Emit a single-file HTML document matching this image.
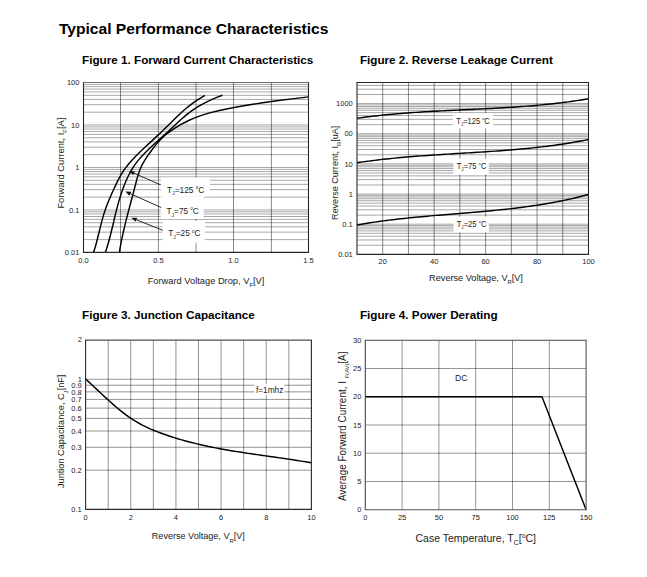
<!DOCTYPE html>
<html><head><meta charset="utf-8"><style>
html,body{margin:0;padding:0;background:#fff;}
body{width:647px;height:577px;overflow:hidden;}
svg{display:block;font-family:"Liberation Sans",sans-serif;}
</style></head><body>
<svg width="647" height="577" viewBox="0 0 647 577">
<rect width="647" height="577" fill="#fff"/>
<text x="58.9" y="34" font-size="15" font-weight="bold" fill="#000" textLength="269.6" lengthAdjust="spacingAndGlyphs">Typical Performance Characteristics</text>
<text x="82.1" y="63.9" font-size="11.7" text-anchor="start" font-weight="bold" fill="#000" >Figure 1. Forward Current Characteristics</text>
<text x="359.9" y="63.9" font-size="11.7" text-anchor="start" font-weight="bold" fill="#000" >Figure 2. Reverse Leakage Current</text>
<text x="82.1" y="318.9" font-size="11.7" text-anchor="start" font-weight="bold" fill="#000" >Figure 3. Junction Capacitance</text>
<text x="359.9" y="318.9" font-size="11.7" text-anchor="start" font-weight="bold" fill="#000" >Figure 4. Power Derating</text>
<line x1="83.5" y1="239.61" x2="308.5" y2="239.61" stroke="#000" stroke-opacity="0.35" stroke-width="1"/>
<line x1="83.5" y1="232.13" x2="308.5" y2="232.13" stroke="#000" stroke-opacity="0.35" stroke-width="1"/>
<line x1="83.5" y1="226.83" x2="308.5" y2="226.83" stroke="#000" stroke-opacity="0.35" stroke-width="1"/>
<line x1="83.5" y1="222.71" x2="308.5" y2="222.71" stroke="#000" stroke-opacity="0.35" stroke-width="1"/>
<line x1="83.5" y1="219.35" x2="308.5" y2="219.35" stroke="#000" stroke-opacity="0.35" stroke-width="1"/>
<line x1="83.5" y1="216.5" x2="308.5" y2="216.5" stroke="#000" stroke-opacity="0.35" stroke-width="1"/>
<line x1="83.5" y1="214.04" x2="308.5" y2="214.04" stroke="#000" stroke-opacity="0.35" stroke-width="1"/>
<line x1="83.5" y1="211.87" x2="308.5" y2="211.87" stroke="#000" stroke-opacity="0.35" stroke-width="1"/>
<line x1="83.5" y1="209.93" x2="308.5" y2="209.93" stroke="#000" stroke-opacity="0.35" stroke-width="1"/>
<line x1="83.5" y1="197.14" x2="308.5" y2="197.14" stroke="#000" stroke-opacity="0.35" stroke-width="1"/>
<line x1="83.5" y1="189.66" x2="308.5" y2="189.66" stroke="#000" stroke-opacity="0.35" stroke-width="1"/>
<line x1="83.5" y1="184.35" x2="308.5" y2="184.35" stroke="#000" stroke-opacity="0.35" stroke-width="1"/>
<line x1="83.5" y1="180.24" x2="308.5" y2="180.24" stroke="#000" stroke-opacity="0.35" stroke-width="1"/>
<line x1="83.5" y1="176.87" x2="308.5" y2="176.87" stroke="#000" stroke-opacity="0.35" stroke-width="1"/>
<line x1="83.5" y1="174.03" x2="308.5" y2="174.03" stroke="#000" stroke-opacity="0.35" stroke-width="1"/>
<line x1="83.5" y1="171.57" x2="308.5" y2="171.57" stroke="#000" stroke-opacity="0.35" stroke-width="1"/>
<line x1="83.5" y1="169.39" x2="308.5" y2="169.39" stroke="#000" stroke-opacity="0.35" stroke-width="1"/>
<line x1="83.5" y1="167.45" x2="308.5" y2="167.45" stroke="#000" stroke-opacity="0.35" stroke-width="1"/>
<line x1="83.5" y1="154.66" x2="308.5" y2="154.66" stroke="#000" stroke-opacity="0.35" stroke-width="1"/>
<line x1="83.5" y1="147.18" x2="308.5" y2="147.18" stroke="#000" stroke-opacity="0.35" stroke-width="1"/>
<line x1="83.5" y1="141.88" x2="308.5" y2="141.88" stroke="#000" stroke-opacity="0.35" stroke-width="1"/>
<line x1="83.5" y1="137.76" x2="308.5" y2="137.76" stroke="#000" stroke-opacity="0.35" stroke-width="1"/>
<line x1="83.5" y1="134.4" x2="308.5" y2="134.4" stroke="#000" stroke-opacity="0.35" stroke-width="1"/>
<line x1="83.5" y1="131.55" x2="308.5" y2="131.55" stroke="#000" stroke-opacity="0.35" stroke-width="1"/>
<line x1="83.5" y1="129.09" x2="308.5" y2="129.09" stroke="#000" stroke-opacity="0.35" stroke-width="1"/>
<line x1="83.5" y1="126.92" x2="308.5" y2="126.92" stroke="#000" stroke-opacity="0.35" stroke-width="1"/>
<line x1="83.5" y1="124.97" x2="308.5" y2="124.97" stroke="#000" stroke-opacity="0.35" stroke-width="1"/>
<line x1="83.5" y1="112.19" x2="308.5" y2="112.19" stroke="#000" stroke-opacity="0.35" stroke-width="1"/>
<line x1="83.5" y1="104.71" x2="308.5" y2="104.71" stroke="#000" stroke-opacity="0.35" stroke-width="1"/>
<line x1="83.5" y1="99.4" x2="308.5" y2="99.4" stroke="#000" stroke-opacity="0.35" stroke-width="1"/>
<line x1="83.5" y1="95.29" x2="308.5" y2="95.29" stroke="#000" stroke-opacity="0.35" stroke-width="1"/>
<line x1="83.5" y1="91.92" x2="308.5" y2="91.92" stroke="#000" stroke-opacity="0.35" stroke-width="1"/>
<line x1="83.5" y1="89.08" x2="308.5" y2="89.08" stroke="#000" stroke-opacity="0.35" stroke-width="1"/>
<line x1="83.5" y1="86.62" x2="308.5" y2="86.62" stroke="#000" stroke-opacity="0.35" stroke-width="1"/>
<line x1="83.5" y1="84.44" x2="308.5" y2="84.44" stroke="#000" stroke-opacity="0.35" stroke-width="1"/>
<line x1="120.5" y1="82.5" x2="120.5" y2="252.4" stroke="#000" stroke-opacity="0.46" stroke-width="1"/>
<line x1="158.4" y1="82.5" x2="158.4" y2="252.4" stroke="#000" stroke-opacity="0.46" stroke-width="1"/>
<line x1="196.1" y1="82.5" x2="196.1" y2="252.4" stroke="#000" stroke-opacity="0.46" stroke-width="1"/>
<line x1="233.5" y1="82.5" x2="233.5" y2="252.4" stroke="#000" stroke-opacity="0.46" stroke-width="1"/>
<line x1="271.4" y1="82.5" x2="271.4" y2="252.4" stroke="#000" stroke-opacity="0.46" stroke-width="1"/>
<rect x="161" y="177.5" width="49" height="19" fill="#fff"/>
<rect x="160.7" y="196.5" width="43" height="22.5" fill="#fff"/>
<rect x="162.6" y="221.2" width="42.5" height="21.5" fill="#fff"/>
<path d="M205.02,95.40 L201.55,97.39 L198.33,99.37 L195.33,101.36 L192.53,103.35 L189.91,105.34 L187.43,107.32 L185.07,109.31 L182.82,111.30 L180.64,113.29 L178.51,115.27 L176.43,117.26 L174.37,119.25 L172.33,121.24 L170.30,123.22 L168.28,125.21 L166.26,127.20 L164.24,129.18 L162.19,131.17 L160.13,133.16 L158.04,135.15 L155.91,137.13 L153.77,139.12 L151.62,141.11 L149.47,143.10 L147.32,145.08 L145.18,147.07 L143.07,149.06 L140.98,151.05 L138.93,153.03 L136.93,155.02 L134.97,157.01 L133.08,158.99 L131.26,160.98 L129.51,162.97 L127.85,164.96 L126.29,166.94 L124.82,168.93 L123.45,170.92 L122.16,172.91 L120.96,174.89 L119.82,176.88 L118.75,178.87 L117.72,180.86 L116.74,182.84 L115.79,184.83 L114.86,186.82 L113.95,188.81 L113.05,190.79 L112.15,192.78 L111.27,194.77 L110.40,196.75 L109.54,198.74 L108.71,200.73 L107.89,202.72 L107.11,204.70 L106.35,206.69 L105.63,208.68 L104.94,210.67 L104.29,212.65 L103.67,214.64 L103.08,216.63 L102.52,218.62 L101.97,220.60 L101.45,222.59 L100.94,224.58 L100.45,226.56 L99.96,228.55 L99.48,230.54 L99.00,232.53 L98.52,234.51 L98.03,236.50 L97.53,238.49 L97.02,240.48 L96.50,242.46 L95.96,244.45 L95.39,246.44 L94.80,248.43 L94.18,250.41 L93.53,252.40" stroke="#000" stroke-width="1.45" fill="none" stroke-linejoin="round"/>
<path d="M222.47,95.20 L217.38,97.19 L212.68,99.18 L208.35,101.17 L204.36,103.16 L200.69,105.15 L197.30,107.14 L194.18,109.13 L191.29,111.12 L188.61,113.11 L186.11,115.10 L183.75,117.09 L181.50,119.08 L179.33,121.07 L177.21,123.06 L175.11,125.05 L173.00,127.04 L170.84,129.03 L168.66,131.02 L166.45,133.01 L164.23,135.00 L162.00,136.99 L159.77,138.98 L157.55,140.97 L155.35,142.96 L153.18,144.95 L151.04,146.94 L148.95,148.93 L146.91,150.92 L144.93,152.91 L143.02,154.90 L141.18,156.89 L139.43,158.88 L137.78,160.87 L136.23,162.86 L134.79,164.85 L133.45,166.84 L132.20,168.83 L131.03,170.82 L129.94,172.81 L128.91,174.79 L127.94,176.78 L127.02,178.77 L126.14,180.76 L125.29,182.75 L124.48,184.74 L123.70,186.73 L122.95,188.72 L122.24,190.71 L121.55,192.70 L120.89,194.69 L120.25,196.68 L119.64,198.67 L119.04,200.66 L118.47,202.65 L117.92,204.64 L117.39,206.63 L116.87,208.62 L116.36,210.61 L115.86,212.60 L115.38,214.59 L114.90,216.58 L114.42,218.57 L113.95,220.56 L113.48,222.55 L113.02,224.54 L112.54,226.53 L112.07,228.52 L111.58,230.51 L111.09,232.50 L110.59,234.49 L110.08,236.48 L109.55,238.47 L109.01,240.46 L108.45,242.45 L107.87,244.44 L107.26,246.43 L106.64,248.42 L105.98,250.41 L105.30,252.40" stroke="#000" stroke-width="1.45" fill="none" stroke-linejoin="round"/>
<path d="M308.44,96.90 L291.94,98.87 L276.66,100.84 L262.59,102.81 L249.73,104.77 L238.09,106.74 L227.66,108.71 L218.46,110.68 L210.51,112.65 L203.74,114.62 L197.96,116.58 L192.99,118.55 L188.65,120.52 L184.75,122.49 L181.13,124.46 L177.73,126.43 L174.54,128.39 L171.57,130.36 L168.81,132.33 L166.27,134.30 L163.95,136.27 L161.83,138.24 L159.89,140.20 L158.10,142.17 L156.42,144.14 L154.85,146.11 L153.34,148.08 L151.87,150.05 L150.42,152.01 L149.00,153.98 L147.61,155.95 L146.27,157.92 L145.00,159.89 L143.80,161.86 L142.69,163.82 L141.67,165.79 L140.76,167.76 L139.94,169.73 L139.20,171.70 L138.53,173.67 L137.91,175.63 L137.34,177.60 L136.80,179.57 L136.29,181.54 L135.79,183.51 L135.28,185.48 L134.77,187.44 L134.26,189.41 L133.74,191.38 L133.22,193.35 L132.69,195.32 L132.17,197.29 L131.64,199.25 L131.12,201.22 L130.59,203.19 L130.07,205.16 L129.55,207.13 L129.02,209.10 L128.51,211.06 L127.99,213.03 L127.48,215.00 L126.97,216.97 L126.47,218.94 L125.98,220.91 L125.49,222.87 L125.01,224.84 L124.53,226.81 L124.07,228.78 L123.61,230.75 L123.17,232.72 L122.73,234.68 L122.30,236.65 L121.89,238.62 L121.49,240.59 L121.10,242.56 L120.73,244.53 L120.36,246.49 L120.02,248.46 L119.69,250.43 L119.37,252.40" stroke="#000" stroke-width="1.45" fill="none" stroke-linejoin="round"/>
<line x1="160.5" y1="184.8" x2="134.04" y2="173.21" stroke="#111" stroke-width="0.9"/>
<path d="M129,171 L134.92,171.19 L133.15,175.22 Z" fill="#111"/>
<line x1="161.2" y1="207.5" x2="130.32" y2="193.74" stroke="#111" stroke-width="0.9"/>
<path d="M125.3,191.5 L131.22,191.73 L129.43,195.75 Z" fill="#111"/>
<line x1="162.8" y1="230.3" x2="136.41" y2="219.83" stroke="#111" stroke-width="0.9"/>
<path d="M131.3,217.8 L137.22,217.78 L135.6,221.87 Z" fill="#111"/>
<text x="167" y="192.6" font-size="9.2" fill="#222" textLength="37.2" lengthAdjust="spacingAndGlyphs">T<tspan font-size="5.5" dy="2.6">J</tspan><tspan dy="-2.6">=125 </tspan><tspan font-size="4.6" dy="-3.6">o</tspan><tspan dy="3.6">C</tspan></text>
<text x="166.5" y="213.9" font-size="9.2" fill="#222" textLength="32.2" lengthAdjust="spacingAndGlyphs">T<tspan font-size="5.5" dy="2.6">J</tspan><tspan dy="-2.6">=75 </tspan><tspan font-size="4.6" dy="-3.6">o</tspan><tspan dy="3.6">C</tspan></text>
<text x="168.2" y="236.4" font-size="9.2" fill="#222" textLength="32.2" lengthAdjust="spacingAndGlyphs">T<tspan font-size="5.5" dy="2.6">J</tspan><tspan dy="-2.6">=25 </tspan><tspan font-size="4.6" dy="-3.6">o</tspan><tspan dy="3.6">C</tspan></text>
<line x1="82.95" y1="82.5" x2="309.05" y2="82.5" stroke="#707070" stroke-width="1.1"/>
<line x1="82.95" y1="252.4" x2="309.05" y2="252.4" stroke="#2a2a2a" stroke-width="1.1"/>
<line x1="83.5" y1="82.5" x2="83.5" y2="252.4" stroke="#2a2a2a" stroke-width="1.1"/>
<line x1="308.5" y1="82.5" x2="308.5" y2="252.4" stroke="#2a2a2a" stroke-width="1.1"/>
<text x="79.4" y="85.2" font-size="7.5" text-anchor="end" font-weight="normal" fill="#222" >100</text>
<text x="79.4" y="127.67" font-size="7.5" text-anchor="end" font-weight="normal" fill="#222" >10</text>
<text x="79.4" y="170.15" font-size="7.5" text-anchor="end" font-weight="normal" fill="#222" >1</text>
<text x="79.4" y="212.62" font-size="7.5" text-anchor="end" font-weight="normal" fill="#222" >0.1</text>
<text x="79.4" y="255.1" font-size="7.5" text-anchor="end" font-weight="normal" fill="#222" >0.01</text>
<text x="83.5" y="262.8" font-size="7.5" text-anchor="middle" font-weight="normal" fill="#222" >0.0</text>
<text x="158.5" y="262.8" font-size="7.5" text-anchor="middle" font-weight="normal" fill="#222" >0.5</text>
<text x="233.5" y="262.8" font-size="7.5" text-anchor="middle" font-weight="normal" fill="#222" >1.0</text>
<text x="308.5" y="262.8" font-size="7.5" text-anchor="middle" font-weight="normal" fill="#222" >1.5</text>
<text x="147.7" y="283.7" font-size="9.9" fill="#222" textLength="116.6" lengthAdjust="spacingAndGlyphs">Forward Voltage Drop, V<tspan font-size="6.2" dy="3.4">F</tspan><tspan dy="-3.4">[V]</tspan></text>
<text transform="translate(64 208.6) rotate(-90)" x="0" y="0" font-size="9.5" fill="#222" textLength="91" lengthAdjust="spacingAndGlyphs">Forward Current, I<tspan font-size="6.2" dy="3.4">F</tspan><tspan dy="-3.4">[A]</tspan></text>
<line x1="357" y1="245.27" x2="588.5" y2="245.27" stroke="#000" stroke-opacity="0.35" stroke-width="1"/>
<line x1="357" y1="239.96" x2="588.5" y2="239.96" stroke="#000" stroke-opacity="0.35" stroke-width="1"/>
<line x1="357" y1="236.2" x2="588.5" y2="236.2" stroke="#000" stroke-opacity="0.35" stroke-width="1"/>
<line x1="357" y1="233.27" x2="588.5" y2="233.27" stroke="#000" stroke-opacity="0.35" stroke-width="1"/>
<line x1="357" y1="230.89" x2="588.5" y2="230.89" stroke="#000" stroke-opacity="0.35" stroke-width="1"/>
<line x1="357" y1="228.87" x2="588.5" y2="228.87" stroke="#000" stroke-opacity="0.35" stroke-width="1"/>
<line x1="357" y1="227.12" x2="588.5" y2="227.12" stroke="#000" stroke-opacity="0.35" stroke-width="1"/>
<line x1="357" y1="225.58" x2="588.5" y2="225.58" stroke="#000" stroke-opacity="0.35" stroke-width="1"/>
<line x1="357" y1="224.2" x2="588.5" y2="224.2" stroke="#000" stroke-opacity="0.35" stroke-width="1"/>
<line x1="357" y1="215.12" x2="588.5" y2="215.12" stroke="#000" stroke-opacity="0.35" stroke-width="1"/>
<line x1="357" y1="209.81" x2="588.5" y2="209.81" stroke="#000" stroke-opacity="0.35" stroke-width="1"/>
<line x1="357" y1="206.04" x2="588.5" y2="206.04" stroke="#000" stroke-opacity="0.35" stroke-width="1"/>
<line x1="357" y1="203.12" x2="588.5" y2="203.12" stroke="#000" stroke-opacity="0.35" stroke-width="1"/>
<line x1="357" y1="200.73" x2="588.5" y2="200.73" stroke="#000" stroke-opacity="0.35" stroke-width="1"/>
<line x1="357" y1="198.71" x2="588.5" y2="198.71" stroke="#000" stroke-opacity="0.35" stroke-width="1"/>
<line x1="357" y1="196.96" x2="588.5" y2="196.96" stroke="#000" stroke-opacity="0.35" stroke-width="1"/>
<line x1="357" y1="195.42" x2="588.5" y2="195.42" stroke="#000" stroke-opacity="0.35" stroke-width="1"/>
<line x1="357" y1="194.04" x2="588.5" y2="194.04" stroke="#000" stroke-opacity="0.35" stroke-width="1"/>
<line x1="357" y1="184.96" x2="588.5" y2="184.96" stroke="#000" stroke-opacity="0.35" stroke-width="1"/>
<line x1="357" y1="179.65" x2="588.5" y2="179.65" stroke="#000" stroke-opacity="0.35" stroke-width="1"/>
<line x1="357" y1="175.89" x2="588.5" y2="175.89" stroke="#000" stroke-opacity="0.35" stroke-width="1"/>
<line x1="357" y1="172.96" x2="588.5" y2="172.96" stroke="#000" stroke-opacity="0.35" stroke-width="1"/>
<line x1="357" y1="170.58" x2="588.5" y2="170.58" stroke="#000" stroke-opacity="0.35" stroke-width="1"/>
<line x1="357" y1="168.56" x2="588.5" y2="168.56" stroke="#000" stroke-opacity="0.35" stroke-width="1"/>
<line x1="357" y1="166.81" x2="588.5" y2="166.81" stroke="#000" stroke-opacity="0.35" stroke-width="1"/>
<line x1="357" y1="165.27" x2="588.5" y2="165.27" stroke="#000" stroke-opacity="0.35" stroke-width="1"/>
<line x1="357" y1="163.89" x2="588.5" y2="163.89" stroke="#000" stroke-opacity="0.35" stroke-width="1"/>
<line x1="357" y1="154.81" x2="588.5" y2="154.81" stroke="#000" stroke-opacity="0.35" stroke-width="1"/>
<line x1="357" y1="149.5" x2="588.5" y2="149.5" stroke="#000" stroke-opacity="0.35" stroke-width="1"/>
<line x1="357" y1="145.73" x2="588.5" y2="145.73" stroke="#000" stroke-opacity="0.35" stroke-width="1"/>
<line x1="357" y1="142.81" x2="588.5" y2="142.81" stroke="#000" stroke-opacity="0.35" stroke-width="1"/>
<line x1="357" y1="140.42" x2="588.5" y2="140.42" stroke="#000" stroke-opacity="0.35" stroke-width="1"/>
<line x1="357" y1="138.4" x2="588.5" y2="138.4" stroke="#000" stroke-opacity="0.35" stroke-width="1"/>
<line x1="357" y1="136.65" x2="588.5" y2="136.65" stroke="#000" stroke-opacity="0.35" stroke-width="1"/>
<line x1="357" y1="135.11" x2="588.5" y2="135.11" stroke="#000" stroke-opacity="0.35" stroke-width="1"/>
<line x1="357" y1="133.73" x2="588.5" y2="133.73" stroke="#000" stroke-opacity="0.35" stroke-width="1"/>
<line x1="357" y1="124.65" x2="588.5" y2="124.65" stroke="#000" stroke-opacity="0.35" stroke-width="1"/>
<line x1="357" y1="119.34" x2="588.5" y2="119.34" stroke="#000" stroke-opacity="0.35" stroke-width="1"/>
<line x1="357" y1="115.58" x2="588.5" y2="115.58" stroke="#000" stroke-opacity="0.35" stroke-width="1"/>
<line x1="357" y1="112.65" x2="588.5" y2="112.65" stroke="#000" stroke-opacity="0.35" stroke-width="1"/>
<line x1="357" y1="110.27" x2="588.5" y2="110.27" stroke="#000" stroke-opacity="0.35" stroke-width="1"/>
<line x1="357" y1="108.25" x2="588.5" y2="108.25" stroke="#000" stroke-opacity="0.35" stroke-width="1"/>
<line x1="357" y1="106.5" x2="588.5" y2="106.5" stroke="#000" stroke-opacity="0.35" stroke-width="1"/>
<line x1="357" y1="104.96" x2="588.5" y2="104.96" stroke="#000" stroke-opacity="0.35" stroke-width="1"/>
<line x1="357" y1="103.58" x2="588.5" y2="103.58" stroke="#000" stroke-opacity="0.35" stroke-width="1"/>
<line x1="357" y1="94.5" x2="588.5" y2="94.5" stroke="#000" stroke-opacity="0.35" stroke-width="1"/>
<line x1="357" y1="89.19" x2="588.5" y2="89.19" stroke="#000" stroke-opacity="0.35" stroke-width="1"/>
<line x1="357" y1="85.42" x2="588.5" y2="85.42" stroke="#000" stroke-opacity="0.35" stroke-width="1"/>
<line x1="382.72" y1="82.5" x2="382.72" y2="254.35" stroke="#000" stroke-opacity="0.46" stroke-width="1"/>
<line x1="408.44" y1="82.5" x2="408.44" y2="254.35" stroke="#000" stroke-opacity="0.46" stroke-width="1"/>
<line x1="434.17" y1="82.5" x2="434.17" y2="254.35" stroke="#000" stroke-opacity="0.46" stroke-width="1"/>
<line x1="459.89" y1="82.5" x2="459.89" y2="254.35" stroke="#000" stroke-opacity="0.46" stroke-width="1"/>
<line x1="485.61" y1="82.5" x2="485.61" y2="254.35" stroke="#000" stroke-opacity="0.46" stroke-width="1"/>
<line x1="511.33" y1="82.5" x2="511.33" y2="254.35" stroke="#000" stroke-opacity="0.46" stroke-width="1"/>
<line x1="537.06" y1="82.5" x2="537.06" y2="254.35" stroke="#000" stroke-opacity="0.46" stroke-width="1"/>
<line x1="562.78" y1="82.5" x2="562.78" y2="254.35" stroke="#000" stroke-opacity="0.46" stroke-width="1"/>
<rect x="452.7" y="113" width="40.3" height="15.4" fill="#fff"/>
<rect x="453.5" y="158.8" width="35.3" height="15.8" fill="#fff"/>
<rect x="453.5" y="216.7" width="35.3" height="15.7" fill="#fff"/>
<path d="M357.00,118.27 L359.93,117.86 L362.86,117.47 L365.79,117.08 L368.72,116.72 L371.65,116.36 L374.58,116.02 L377.51,115.69 L380.44,115.38 L383.37,115.07 L386.30,114.78 L389.23,114.50 L392.16,114.23 L395.09,113.97 L398.03,113.71 L400.96,113.47 L403.89,113.24 L406.82,113.02 L409.75,112.80 L412.68,112.59 L415.61,112.39 L418.54,112.20 L421.47,112.01 L424.40,111.83 L427.33,111.65 L430.26,111.48 L433.19,111.32 L436.12,111.16 L439.05,111.00 L441.98,110.85 L444.91,110.70 L447.84,110.55 L450.77,110.41 L453.70,110.26 L456.63,110.12 L459.56,109.98 L462.49,109.84 L465.42,109.71 L468.35,109.57 L471.28,109.43 L474.22,109.29 L477.15,109.15 L480.08,109.00 L483.01,108.86 L485.94,108.71 L488.87,108.56 L491.80,108.41 L494.73,108.25 L497.66,108.09 L500.59,107.92 L503.52,107.75 L506.45,107.57 L509.38,107.39 L512.31,107.20 L515.24,107.00 L518.17,106.80 L521.10,106.59 L524.03,106.37 L526.96,106.15 L529.89,105.91 L532.82,105.67 L535.75,105.41 L538.68,105.15 L541.61,104.88 L544.54,104.59 L547.47,104.30 L550.41,103.99 L553.34,103.67 L556.27,103.34 L559.20,102.99 L562.13,102.63 L565.06,102.26 L567.99,101.88 L570.92,101.48 L573.85,101.06 L576.78,100.63 L579.71,100.18 L582.64,99.72 L585.57,99.24 L588.50,98.75" stroke="#000" stroke-width="1.45" fill="none" stroke-linejoin="round"/>
<path d="M357.00,162.76 L359.93,162.32 L362.86,161.90 L365.79,161.49 L368.72,161.10 L371.65,160.72 L374.58,160.35 L377.51,159.99 L380.44,159.65 L383.37,159.32 L386.30,159.00 L389.23,158.69 L392.16,158.39 L395.09,158.10 L398.03,157.82 L400.96,157.55 L403.89,157.29 L406.82,157.03 L409.75,156.79 L412.68,156.55 L415.61,156.32 L418.54,156.09 L421.47,155.88 L424.40,155.66 L427.33,155.46 L430.26,155.25 L433.19,155.06 L436.12,154.86 L439.05,154.67 L441.98,154.48 L444.91,154.30 L447.84,154.12 L450.77,153.94 L453.70,153.76 L456.63,153.58 L459.56,153.40 L462.49,153.22 L465.42,153.05 L468.35,152.87 L471.28,152.69 L474.22,152.51 L477.15,152.32 L480.08,152.14 L483.01,151.95 L485.94,151.76 L488.87,151.56 L491.80,151.36 L494.73,151.15 L497.66,150.94 L500.59,150.73 L503.52,150.51 L506.45,150.28 L509.38,150.04 L512.31,149.80 L515.24,149.55 L518.17,149.29 L521.10,149.03 L524.03,148.75 L526.96,148.47 L529.89,148.17 L532.82,147.87 L535.75,147.55 L538.68,147.23 L541.61,146.89 L544.54,146.54 L547.47,146.17 L550.41,145.80 L553.34,145.41 L556.27,145.01 L559.20,144.59 L562.13,144.16 L565.06,143.71 L567.99,143.25 L570.92,142.77 L573.85,142.28 L576.78,141.77 L579.71,141.24 L582.64,140.69 L585.57,140.13 L588.50,139.55" stroke="#000" stroke-width="1.45" fill="none" stroke-linejoin="round"/>
<path d="M357.00,224.95 L359.93,224.44 L362.86,223.94 L365.79,223.45 L368.72,222.99 L371.65,222.54 L374.58,222.10 L377.51,221.68 L380.44,221.27 L383.37,220.87 L386.30,220.49 L389.23,220.12 L392.16,219.76 L395.09,219.41 L398.03,219.07 L400.96,218.75 L403.89,218.43 L406.82,218.12 L409.75,217.82 L412.68,217.53 L415.61,217.24 L418.54,216.96 L421.47,216.69 L424.40,216.42 L427.33,216.16 L430.26,215.90 L433.19,215.65 L436.12,215.40 L439.05,215.16 L441.98,214.92 L444.91,214.68 L447.84,214.44 L450.77,214.20 L453.70,213.96 L456.63,213.72 L459.56,213.49 L462.49,213.25 L465.42,213.01 L468.35,212.76 L471.28,212.52 L474.22,212.27 L477.15,212.02 L480.08,211.76 L483.01,211.50 L485.94,211.23 L488.87,210.96 L491.80,210.68 L494.73,210.40 L497.66,210.10 L500.59,209.80 L503.52,209.49 L506.45,209.18 L509.38,208.85 L512.31,208.51 L515.24,208.16 L518.17,207.80 L521.10,207.43 L524.03,207.05 L526.96,206.65 L529.89,206.25 L532.82,205.82 L535.75,205.39 L538.68,204.93 L541.61,204.47 L544.54,203.99 L547.47,203.49 L550.41,202.97 L553.34,202.44 L556.27,201.89 L559.20,201.32 L562.13,200.73 L565.06,200.12 L567.99,199.49 L570.92,198.84 L573.85,198.17 L576.78,197.48 L579.71,196.77 L582.64,196.03 L585.57,195.27 L588.50,194.49" stroke="#000" stroke-width="1.45" fill="none" stroke-linejoin="round"/>
<text x="456.3" y="123.7" font-size="8.3" fill="#222" textLength="33.5" lengthAdjust="spacingAndGlyphs">T<tspan font-size="5" dy="2.3">J</tspan><tspan dy="-2.3">=125 </tspan><tspan font-size="4.2" dy="-3.3">o</tspan><tspan dy="3.3">C</tspan></text>
<text x="456.7" y="168.6" font-size="8.3" fill="#222" textLength="29.7" lengthAdjust="spacingAndGlyphs">T<tspan font-size="5" dy="2.3">J</tspan><tspan dy="-2.3">=75 </tspan><tspan font-size="4.2" dy="-3.3">o</tspan><tspan dy="3.3">C</tspan></text>
<text x="456.7" y="226.5" font-size="8.3" fill="#222" textLength="29.7" lengthAdjust="spacingAndGlyphs">T<tspan font-size="5" dy="2.3">J</tspan><tspan dy="-2.3">=25 </tspan><tspan font-size="4.2" dy="-3.3">o</tspan><tspan dy="3.3">C</tspan></text>
<line x1="356.45" y1="82.5" x2="589.05" y2="82.5" stroke="#2a2a2a" stroke-width="1.1"/>
<line x1="356.45" y1="254.35" x2="589.05" y2="254.35" stroke="#2a2a2a" stroke-width="1.1"/>
<line x1="357" y1="82.5" x2="357" y2="254.35" stroke="#2a2a2a" stroke-width="1.1"/>
<line x1="588.5" y1="82.5" x2="588.5" y2="254.35" stroke="#2a2a2a" stroke-width="1.1"/>
<text x="352.8" y="106.28" font-size="7.5" text-anchor="end" font-weight="normal" fill="#222" >1000</text>
<text x="352.8" y="136.43" font-size="7.5" text-anchor="end" font-weight="normal" fill="#222" >00</text>
<text x="352.8" y="166.59" font-size="7.5" text-anchor="end" font-weight="normal" fill="#222" >10</text>
<text x="352.8" y="196.74" font-size="7.5" text-anchor="end" font-weight="normal" fill="#222" >1</text>
<text x="352.8" y="226.9" font-size="7.5" text-anchor="end" font-weight="normal" fill="#222" >0.1</text>
<text x="352.8" y="257.05" font-size="7.5" text-anchor="end" font-weight="normal" fill="#222" >0.01</text>
<text x="382.72" y="264.4" font-size="7.5" text-anchor="middle" font-weight="normal" fill="#222" >20</text>
<text x="434.17" y="264.4" font-size="7.5" text-anchor="middle" font-weight="normal" fill="#222" >40</text>
<text x="485.61" y="264.4" font-size="7.5" text-anchor="middle" font-weight="normal" fill="#222" >60</text>
<text x="537.06" y="264.4" font-size="7.5" text-anchor="middle" font-weight="normal" fill="#222" >80</text>
<text x="588.5" y="264.4" font-size="7.5" text-anchor="middle" font-weight="normal" fill="#222" >100</text>
<text x="429.1" y="280.6" font-size="9.8" fill="#222" textLength="93.8" lengthAdjust="spacingAndGlyphs">Reverse Voltage, V<tspan font-size="6.2" dy="3.4">R</tspan><tspan dy="-3.4">[V]</tspan></text>
<text transform="translate(337.5 220) rotate(-90)" x="0" y="0" font-size="9.6" fill="#222" textLength="94.4" lengthAdjust="spacingAndGlyphs">Reverse Current, I<tspan font-size="6.2" dy="3.4">R</tspan><tspan dy="-3.4">[uA]</tspan></text>
<line x1="85.6" y1="470.19" x2="311.4" y2="470.19" stroke="#000" stroke-opacity="0.42" stroke-width="1"/>
<line x1="85.6" y1="447.28" x2="311.4" y2="447.28" stroke="#000" stroke-opacity="0.42" stroke-width="1"/>
<line x1="85.6" y1="431.03" x2="311.4" y2="431.03" stroke="#000" stroke-opacity="0.42" stroke-width="1"/>
<line x1="85.6" y1="418.42" x2="311.4" y2="418.42" stroke="#000" stroke-opacity="0.42" stroke-width="1"/>
<line x1="85.6" y1="408.12" x2="311.4" y2="408.12" stroke="#000" stroke-opacity="0.42" stroke-width="1"/>
<line x1="85.6" y1="399.41" x2="311.4" y2="399.41" stroke="#000" stroke-opacity="0.42" stroke-width="1"/>
<line x1="85.6" y1="391.87" x2="311.4" y2="391.87" stroke="#000" stroke-opacity="0.42" stroke-width="1"/>
<line x1="85.6" y1="385.21" x2="311.4" y2="385.21" stroke="#000" stroke-opacity="0.42" stroke-width="1"/>
<line x1="85.6" y1="379.26" x2="311.4" y2="379.26" stroke="#000" stroke-opacity="0.42" stroke-width="1"/>
<line x1="108.18" y1="340.1" x2="108.18" y2="509.35" stroke="#000" stroke-opacity="0.42" stroke-width="1"/>
<line x1="130.76" y1="340.1" x2="130.76" y2="509.35" stroke="#000" stroke-opacity="0.42" stroke-width="1"/>
<line x1="153.34" y1="340.1" x2="153.34" y2="509.35" stroke="#000" stroke-opacity="0.42" stroke-width="1"/>
<line x1="175.92" y1="340.1" x2="175.92" y2="509.35" stroke="#000" stroke-opacity="0.42" stroke-width="1"/>
<line x1="198.5" y1="340.1" x2="198.5" y2="509.35" stroke="#000" stroke-opacity="0.42" stroke-width="1"/>
<line x1="221.08" y1="340.1" x2="221.08" y2="509.35" stroke="#000" stroke-opacity="0.42" stroke-width="1"/>
<line x1="243.66" y1="340.1" x2="243.66" y2="509.35" stroke="#000" stroke-opacity="0.42" stroke-width="1"/>
<line x1="266.24" y1="340.1" x2="266.24" y2="509.35" stroke="#000" stroke-opacity="0.42" stroke-width="1"/>
<line x1="288.82" y1="340.1" x2="288.82" y2="509.35" stroke="#000" stroke-opacity="0.42" stroke-width="1"/>
<rect x="254.4" y="383.8" width="29.9" height="11.2" fill="#fff"/>
<path d="M85.60,378.98 L88.46,381.59 L91.31,384.25 L94.17,386.93 L97.03,389.63 L99.88,392.32 L102.74,395.00 L105.60,397.65 L108.46,400.27 L111.31,402.83 L114.17,405.33 L117.03,407.77 L119.88,410.12 L122.74,412.39 L125.60,414.56 L128.45,416.63 L131.31,418.58 L134.17,420.41 L137.03,422.13 L139.88,423.75 L142.74,425.27 L145.60,426.71 L148.45,428.05 L151.31,429.33 L154.17,430.53 L157.02,431.67 L159.88,432.76 L162.74,433.80 L165.59,434.80 L168.45,435.77 L171.31,436.71 L174.17,437.61 L177.02,438.49 L179.88,439.34 L182.74,440.16 L185.59,440.95 L188.45,441.71 L191.31,442.46 L194.16,443.17 L197.02,443.87 L199.88,444.54 L202.74,445.19 L205.59,445.82 L208.45,446.43 L211.31,447.02 L214.16,447.59 L217.02,448.15 L219.88,448.69 L222.73,449.21 L225.59,449.72 L228.45,450.22 L231.31,450.70 L234.16,451.17 L237.02,451.63 L239.88,452.09 L242.73,452.53 L245.59,452.96 L248.45,453.39 L251.30,453.81 L254.16,454.23 L257.02,454.64 L259.87,455.05 L262.73,455.46 L265.59,455.86 L268.45,456.26 L271.30,456.67 L274.16,457.07 L277.02,457.48 L279.87,457.88 L282.73,458.30 L285.59,458.71 L288.44,459.13 L291.30,459.56 L294.16,460.00 L297.02,460.44 L299.87,460.90 L302.73,461.36 L305.59,461.83 L308.44,462.32 L311.30,462.82" stroke="#000" stroke-width="1.45" fill="none" stroke-linejoin="round"/>
<text x="255.9" y="392.8" font-size="9.2" fill="#222" textLength="27.4" lengthAdjust="spacingAndGlyphs">f=1mhz</text>
<line x1="85.05" y1="340.1" x2="311.95" y2="340.1" stroke="#505050" stroke-width="1.1"/>
<line x1="85.05" y1="509.35" x2="311.95" y2="509.35" stroke="#2a2a2a" stroke-width="1.1"/>
<line x1="85.6" y1="340.1" x2="85.6" y2="509.35" stroke="#2a2a2a" stroke-width="1.1"/>
<line x1="311.4" y1="340.1" x2="311.4" y2="509.35" stroke="#2a2a2a" stroke-width="1.1"/>
<text x="81.8" y="341.8" font-size="7.5" text-anchor="end" font-weight="normal" fill="#222" >2</text>
<text x="81.8" y="381.96" font-size="7.5" text-anchor="end" font-weight="normal" fill="#222" >1</text>
<text x="81.8" y="387.91" font-size="7.5" text-anchor="end" font-weight="normal" fill="#222" >0.9</text>
<text x="81.8" y="394.57" font-size="7.5" text-anchor="end" font-weight="normal" fill="#222" >0.8</text>
<text x="81.8" y="402.11" font-size="7.5" text-anchor="end" font-weight="normal" fill="#222" >0.7</text>
<text x="81.8" y="410.82" font-size="7.5" text-anchor="end" font-weight="normal" fill="#222" >0.6</text>
<text x="81.8" y="421.12" font-size="7.5" text-anchor="end" font-weight="normal" fill="#222" >0.5</text>
<text x="81.8" y="433.73" font-size="7.5" text-anchor="end" font-weight="normal" fill="#222" >0.4</text>
<text x="81.8" y="449.98" font-size="7.5" text-anchor="end" font-weight="normal" fill="#222" >0.3</text>
<text x="81.8" y="472.89" font-size="7.5" text-anchor="end" font-weight="normal" fill="#222" >0.2</text>
<text x="81.8" y="512.05" font-size="7.5" text-anchor="end" font-weight="normal" fill="#222" >0.1</text>
<text x="85.6" y="520" font-size="7.5" text-anchor="middle" font-weight="normal" fill="#222" >0</text>
<text x="130.76" y="520" font-size="7.5" text-anchor="middle" font-weight="normal" fill="#222" >2</text>
<text x="175.92" y="520" font-size="7.5" text-anchor="middle" font-weight="normal" fill="#222" >4</text>
<text x="221.08" y="520" font-size="7.5" text-anchor="middle" font-weight="normal" fill="#222" >6</text>
<text x="266.24" y="520" font-size="7.5" text-anchor="middle" font-weight="normal" fill="#222" >8</text>
<text x="311.4" y="520" font-size="7.5" text-anchor="middle" font-weight="normal" fill="#222" >10</text>
<text x="151.8" y="539.1" font-size="9.6" fill="#222" textLength="93" lengthAdjust="spacingAndGlyphs">Reverse Voltage, V<tspan font-size="6.2" dy="3.4">R</tspan><tspan dy="-3.4">[V]</tspan></text>
<text transform="translate(64.3 488) rotate(-90)" x="0" y="0" font-size="9.4" fill="#222" textLength="113.4" lengthAdjust="spacingAndGlyphs">Juntion Capacitance, C<tspan font-size="6.2" dy="3.4">J</tspan><tspan dy="-3.4">[nF]</tspan></text>
<line x1="365.3" y1="481.47" x2="586.1" y2="481.47" stroke="#000" stroke-opacity="0.42" stroke-width="1"/>
<line x1="402.1" y1="340.3" x2="402.1" y2="509.7" stroke="#000" stroke-opacity="0.42" stroke-width="1"/>
<line x1="365.3" y1="453.23" x2="586.1" y2="453.23" stroke="#000" stroke-opacity="0.42" stroke-width="1"/>
<line x1="438.9" y1="340.3" x2="438.9" y2="509.7" stroke="#000" stroke-opacity="0.42" stroke-width="1"/>
<line x1="365.3" y1="425" x2="586.1" y2="425" stroke="#000" stroke-opacity="0.42" stroke-width="1"/>
<line x1="475.7" y1="340.3" x2="475.7" y2="509.7" stroke="#000" stroke-opacity="0.42" stroke-width="1"/>
<line x1="365.3" y1="396.77" x2="586.1" y2="396.77" stroke="#000" stroke-opacity="0.42" stroke-width="1"/>
<line x1="512.5" y1="340.3" x2="512.5" y2="509.7" stroke="#000" stroke-opacity="0.42" stroke-width="1"/>
<line x1="365.3" y1="368.53" x2="586.1" y2="368.53" stroke="#000" stroke-opacity="0.42" stroke-width="1"/>
<line x1="549.3" y1="340.3" x2="549.3" y2="509.7" stroke="#000" stroke-opacity="0.42" stroke-width="1"/>
<path d="M365.3,396.77 L541.94,396.77 L586.1,509.7" stroke="#000" stroke-width="1.45" fill="none" stroke-linejoin="round"/>
<text x="455" y="381" font-size="9.9" fill="#222" textLength="12.4" lengthAdjust="spacingAndGlyphs">DC</text>
<line x1="364.75" y1="340.3" x2="586.65" y2="340.3" stroke="#444" stroke-width="1.1"/>
<line x1="364.75" y1="509.7" x2="586.65" y2="509.7" stroke="#555" stroke-width="1.1"/>
<line x1="365.3" y1="340.3" x2="365.3" y2="509.7" stroke="#444" stroke-width="1.1"/>
<line x1="586.1" y1="340.3" x2="586.1" y2="509.7" stroke="#555" stroke-width="1.1"/>
<text x="361.4" y="512.4" font-size="7.5" text-anchor="end" font-weight="normal" fill="#222" >0</text>
<text x="361.4" y="484.17" font-size="7.5" text-anchor="end" font-weight="normal" fill="#222" >5</text>
<text x="361.4" y="455.93" font-size="7.5" text-anchor="end" font-weight="normal" fill="#222" >10</text>
<text x="361.4" y="427.7" font-size="7.5" text-anchor="end" font-weight="normal" fill="#222" >15</text>
<text x="361.4" y="399.47" font-size="7.5" text-anchor="end" font-weight="normal" fill="#222" >20</text>
<text x="361.4" y="371.23" font-size="7.5" text-anchor="end" font-weight="normal" fill="#222" >25</text>
<text x="361.4" y="343" font-size="7.5" text-anchor="end" font-weight="normal" fill="#222" >30</text>
<text x="365.3" y="520" font-size="7.5" text-anchor="middle" font-weight="normal" fill="#222" >0</text>
<text x="402.1" y="520" font-size="7.5" text-anchor="middle" font-weight="normal" fill="#222" >25</text>
<text x="438.9" y="520" font-size="7.5" text-anchor="middle" font-weight="normal" fill="#222" >50</text>
<text x="475.7" y="520" font-size="7.5" text-anchor="middle" font-weight="normal" fill="#222" >75</text>
<text x="512.5" y="520" font-size="7.5" text-anchor="middle" font-weight="normal" fill="#222" >100</text>
<text x="549.3" y="520" font-size="7.5" text-anchor="middle" font-weight="normal" fill="#222" >125</text>
<text x="586.1" y="520" font-size="7.5" text-anchor="middle" font-weight="normal" fill="#222" >150</text>
<text x="415.5" y="541.9" font-size="10.6" fill="#222" textLength="120.4" lengthAdjust="spacingAndGlyphs">Case Temperature, T<tspan font-size="7" dy="3.4">C</tspan><tspan dy="-3.4">[</tspan><tspan font-size="6.8" dy="-4">o</tspan><tspan dy="4">C]</tspan></text>
<text transform="translate(345.8 501.1) rotate(-90)" x="0" y="0" font-size="10.3" fill="#222" textLength="149.6" lengthAdjust="spacingAndGlyphs">Average Forward Current, I <tspan font-size="6.0" dy="2.8">F(AV)</tspan><tspan dy="-2.8">[A]</tspan></text>
</svg>
</body></html>
